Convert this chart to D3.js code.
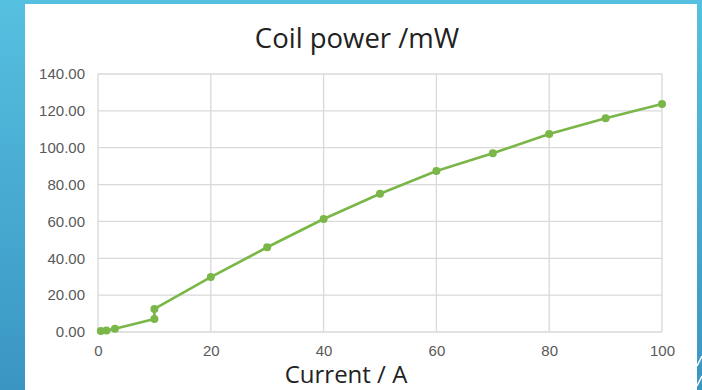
<!DOCTYPE html>
<html>
<head>
<meta charset="utf-8">
<script src="https://cdn.jsdelivr.net/npm/d3@7"></script>
<style>
  body { margin: 0; padding: 0; overflow: hidden; }
  svg { display: block; }
</style>
</head>
<body>
<div id="chart"></div>
<script>
(function () {

  /***** Data *****/
  var current = [0.5, 1.5, 3, 10, 10, 20, 30, 40, 50, 60, 70, 80, 90, 100]
  var power = [0.6, 0.8, 1.8, 7, 12.5, 29.8, 46, 61.3, 75, 87.4, 97, 107.4, 116, 123.7]
  var xTicks = [0, 20, 40, 60, 80, 100]
  var yTicks = [0, 20, 40, 60, 80, 100, 120, 140]

  /***** Configuration *****/
  var W = 702, H = 390
  var margin = { top: 74, right: 40, bottom: 58, left: 98 }
  var width = 662 - margin.left
  var height = 332 - margin.top
  var green = "#7ab648"

  var svg = d3.select("#chart")
    .append("svg")
    .attr("width", W)
    .attr("height", H)

  // slide background
  var defs = svg.append("defs")
  var grad = defs.append("linearGradient")
    .attr("id", "bg")
    .attr("x1", 0).attr("y1", 0).attr("x2", 0).attr("y2", 1)
  grad.append("stop").attr("offset", "0%").attr("stop-color", "#56c0e0")
  grad.append("stop").attr("offset", "100%").attr("stop-color", "#3a95c3")

  svg.append("rect").attr("width", W).attr("height", H).attr("fill", "url(#bg)")
  svg.append("rect")
    .attr("x", 25).attr("y", 4)
    .attr("width", 672).attr("height", H - 4)
    .attr("fill", "#fff")

  // little decorative strokes bottom right
  svg.append("g")
    .selectAll("line")
    .data([356, 376])
    .join("line")
    .attr("x1", 697).attr("y1", d => d + 10)
    .attr("x2", 702).attr("y2", d => d)
    .attr("stroke", "#fff")
    .attr("stroke-width", 1.5)

  var g = svg.append("g")
    .attr("transform", "translate(" + margin.left + "," + margin.top + ")")

  var x = d3.scaleLinear().domain([0, 100]).range([0, width])
  var y = d3.scaleLinear().domain([0, 140]).range([height, 0])

  // grid
  g.append("g")
    .selectAll("line")
    .data(yTicks)
    .join("line")
    .attr("x1", 0).attr("x2", width)
    .attr("y1", d => y(d)).attr("y2", d => y(d))
    .attr("stroke", "#d9d9d9")
    .attr("stroke-width", 1.3)

  g.append("g")
    .selectAll("line")
    .data(xTicks)
    .join("line")
    .attr("x1", d => x(d)).attr("x2", d => x(d))
    .attr("y1", 0).attr("y2", height)
    .attr("stroke", "#d9d9d9")
    .attr("stroke-width", 1.3)

  // axes labels
  var yAxis = g.append("g")
    .call(d3.axisLeft(y).tickValues(yTicks).tickFormat(d3.format(".2f")).tickSize(0).tickPadding(13))
  var xAxis = g.append("g")
    .attr("transform", "translate(0," + height + ")")
    .call(d3.axisBottom(x).tickValues(xTicks).tickSize(0).tickPadding(13))
  ;[yAxis, xAxis].forEach(function (a) {
    a.select(".domain").remove()
    a.selectAll("text")
      .attr("fill", "#595959")
      .style("font-family", "'Liberation Sans', Arial, sans-serif")
      .style("font-size", "15px")
  })

  // series
  var pts = current.map((c, i) => [c, power[i]])
  var line = d3.line()
    .x(d => x(d[0]))
    .y(d => y(d[1]))

  g.append("path")
    .datum([[0, 0]].concat(pts))
    .attr("d", line)
    .attr("fill", "none")
    .attr("stroke", green)
    .attr("stroke-width", 2.6)
    .attr("stroke-linejoin", "round")

  g.append("g")
    .selectAll("circle")
    .data(pts)
    .join("circle")
    .attr("cx", d => x(d[0]))
    .attr("cy", d => y(d[1]))
    .attr("r", 4)
    .attr("fill", green)

  // titles
  svg.append("text")
    .attr("x", 357).attr("y", 48)
    .attr("text-anchor", "middle")
    .attr("fill", "#222")
    .style("font-family", "'Open Sans', 'Noto Sans', sans-serif")
    .style("font-size", "27.5px")
    .text("Coil power /mW")

  svg.append("text")
    .attr("x", 346).attr("y", 383)
    .attr("text-anchor", "middle")
    .attr("fill", "#222")
    .style("font-family", "'Open Sans', 'Noto Sans', sans-serif")
    .style("font-size", "24px")
    .text("Current / A")

})()
</script>
</body>
</html>
